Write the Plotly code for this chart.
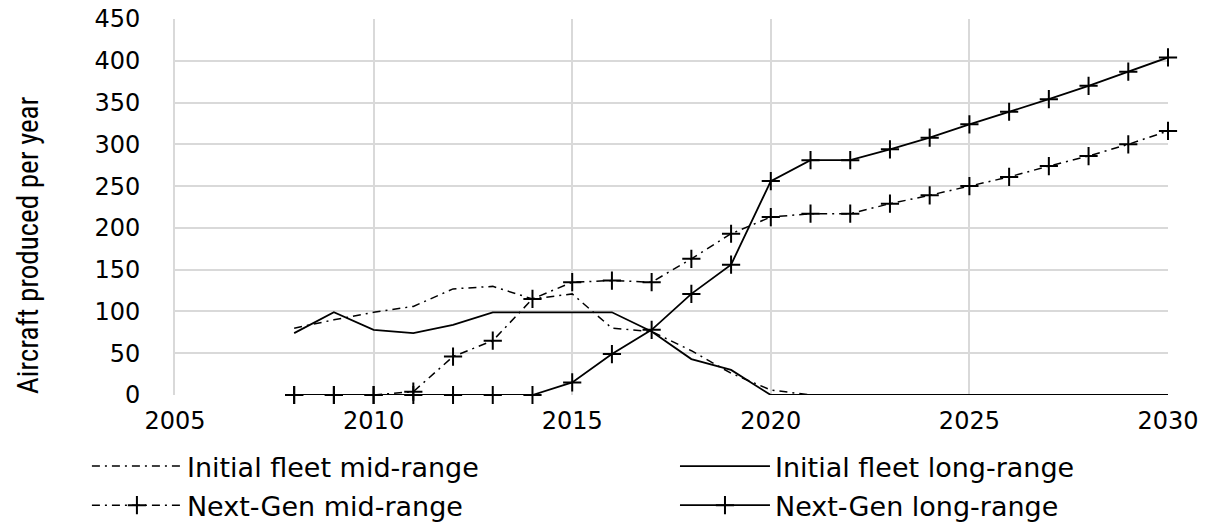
import plotly.graph_objects as go

years = list(range(2008, 2031))
initial_mid = [80, 90, 99, 106, 127, 130, 115, 121, 80, 76, 53, 26, 6,
               0, 0, 0, 0, 0, 0, 0, 0, 0, 0]
initial_long = [74, 99, 78, 74, 84, 99, 99, 99, 99, 76, 43, 30, 0,
                0, 0, 0, 0, 0, 0, 0, 0, 0, 0]
nextgen_mid = [0, 0, 0, 4, 46, 65, 115, 135, 137, 135, 163, 193, 213,
               217, 217, 229, 239, 250, 261, 274, 286, 300, 316]
nextgen_long = [0, 0, 0, 0, 0, 0, 0, 15, 49, 78, 121, 156, 256,
                281, 281, 294, 308, 324, 339, 354, 370, 387, 404]

y_title = "Aircraft produced per year"

DASHDOT = "8px,5px,2px,5px"
LEG_FONT = dict(family="DejaVu Sans", size=27, color="black")
TICK_FONT = dict(family="DejaVu Sans", size=24, color="black")
TITLE_FONT = dict(family="Roboto Condensed, Liberation Sans", size=29, color="black")

fig = go.Figure()
marker = dict(symbol="cross-thin", size=13, line=dict(color="black", width=2), color="black")

fig.add_trace(go.Scatter(x=years, y=initial_mid, name="Initial fleet mid-range", mode="lines",
                         line=dict(color="black", width=1.5, dash=DASHDOT), cliponaxis=False,
                         legend="legend", legendgroup="a"))
fig.add_trace(go.Scatter(x=years, y=nextgen_mid, name="Next-Gen mid-range", mode="lines+markers",
                         line=dict(color="black", width=1.5, dash=DASHDOT), marker=marker,
                         cliponaxis=False, legend="legend", legendgroup="b"))
fig.add_trace(go.Scatter(x=years, y=initial_long, name="Initial fleet long-range", mode="lines",
                         line=dict(color="black", width=1.8), cliponaxis=False,
                         legend="legend2", legendgroup="c"))
fig.add_trace(go.Scatter(x=years, y=nextgen_long, name="Next-Gen long-range", mode="lines+markers",
                         line=dict(color="black", width=1.8), marker=marker, cliponaxis=False,
                         legend="legend2", legendgroup="d"))

fig.update_layout(
    width=1211, height=527,
    margin=dict(l=175, r=43, t=19, b=132, autoexpand=False),
    paper_bgcolor="white", plot_bgcolor="white",
    xaxis=dict(range=[2005, 2030], tick0=2005, dtick=5, showgrid=True, gridcolor="#d9d9d9",
               gridwidth=2, zeroline=False, showline=False, tickfont=TICK_FONT, ticks="",
               ticklabelstandoff=9, ticklabeloverflow="allow"),
    yaxis=dict(range=[0, 450], dtick=50, showgrid=True, gridcolor="#d9d9d9", gridwidth=2,
               zeroline=False, showline=True, linecolor="#d9d9d9", linewidth=2,
               tickfont=TICK_FONT, ticks="", ticklabelstandoff=28, ticklabeloverflow="allow"),
    legend=dict(x=-0.0887, xanchor="left", y=-0.125, yanchor="top", orientation="v",
                font=LEG_FONT, itemwidth=90, tracegroupgap=1, bgcolor="rgba(0,0,0,0)"),
    legend2=dict(x=0.5035, xanchor="left", y=-0.125, yanchor="top", orientation="v",
                 font=LEG_FONT, itemwidth=90, tracegroupgap=1, bgcolor="rgba(0,0,0,0)"),
    showlegend=True,
)

fig.add_annotation(text=y_title, textangle=-90, xref="paper", yref="paper",
                   x=-0.148, y=0.399, xanchor="center", yanchor="middle",
                   showarrow=False, font=TITLE_FONT)

fig.write_html("out.html", config={"displayModeBar": False},
               post_script="document.body.style.margin='0';document.body.style.overflow='hidden';")
